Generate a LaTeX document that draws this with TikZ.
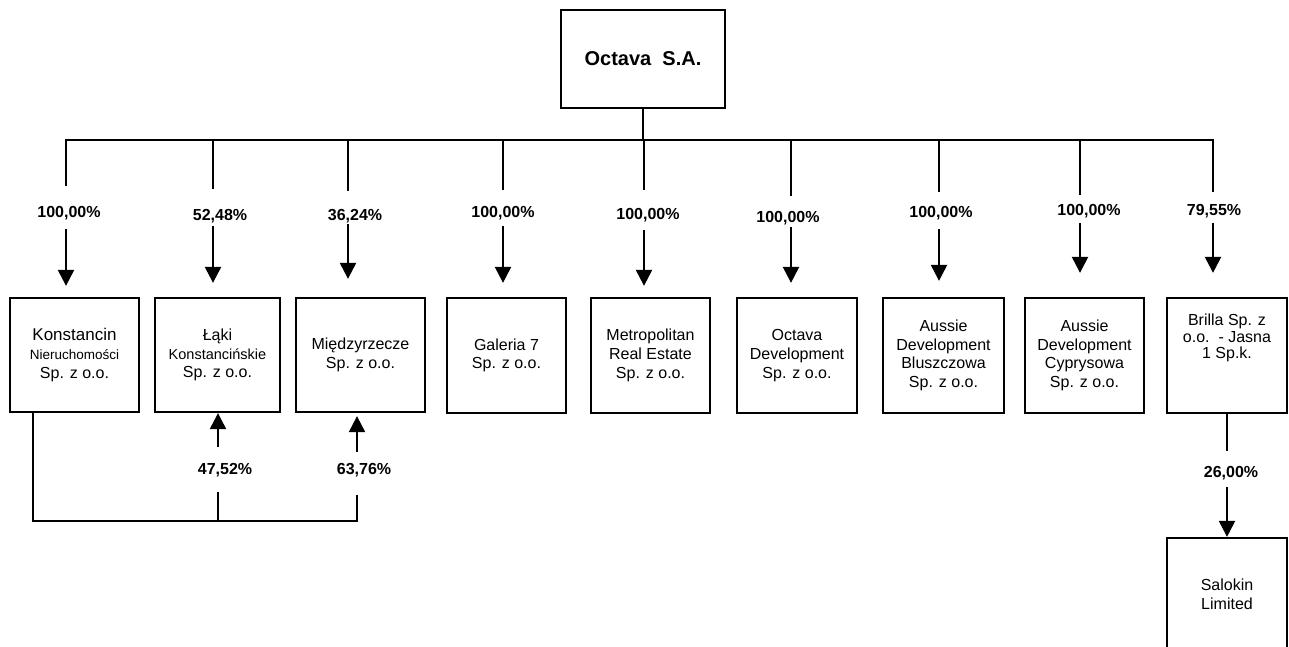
\documentclass[tikz,border=0pt]{standalone}
\usepackage{fontspec}
\setmainfont{Liberation Sans}
\usetikzlibrary{arrows.meta}
\begin{document}
\begin{tikzpicture}[x=1pt,y=-1pt,
  box/.style={draw,line width=2.3pt,inner sep=0pt,align=center,font=\fontsize{16}{18.7}\selectfont},
  pct/.style={inner sep=0pt,font=\bfseries\fontsize{16}{18}\selectfont},
  ln/.style={line width=2.3pt},
  arr/.style={line width=2.3pt,-{Triangle[width=16pt,length=16pt]}}]
\useasboundingbox (0,0) rectangle (1289,647);
\fill[white] (0,0) rectangle (1289,647);

% top box
\node[box,minimum width=164pt,minimum height=98pt,font=\bfseries\fontsize{20}{24}\selectfont] (top) at (643,59) {Octava\ \ S.A.};

% subsidiaries
\node[box,minimum width=129pt,minimum height=114pt] (k1) at (74.5,355)
  {{\fontsize{17}{19}\selectfont Konstancin}\\{\fontsize{13.5}{17}\selectfont Nieruchomości}\\Sp. z o.o.};
\node[box,minimum width=125pt,minimum height=114pt] (k2) at (217.5,355)
  {Łąki\\{\fontsize{14.5}{17}\selectfont Konstancińskie}\\Sp. z o.o.};
\node[box,minimum width=129pt,minimum height=114pt] (k3) at (360.5,355)
  {Międzyrzecze\\Sp. z o.o.};
\node[box,minimum width=119pt,minimum height=115pt] (k4) at (506.5,355.5)
  {Galeria 7\\Sp. z o.o.};
\node[box,minimum width=119pt,minimum height=115pt] (k5) at (650.5,355.5)
  {Metropolitan\\Real Estate\\Sp. z o.o.};
\node[box,minimum width=120pt,minimum height=115pt] (k6) at (797,355.5)
  {Octava\\Development\\Sp. z o.o.};
\node[box,minimum width=121pt,minimum height=115pt] (k7) at (943.5,355.5)
  {Aussie\\Development\\Bluszczowa\\Sp. z o.o.};
\node[box,minimum width=119pt,minimum height=115pt] (k8) at (1084.5,355.5)
  {Aussie\\Development\\Cyprysowa\\Sp. z o.o.};
\node[box,minimum width=120pt,minimum height=115pt] (k9) at (1227,355.5) {};
\node[inner sep=0pt,align=center,anchor=north,font=\fontsize{16}{16.5}\selectfont] (k9t) at ([yshift=-17pt]k9.north)
  {Brilla Sp. z\\o.o.\ \ - Jasna\\1 Sp.k.};
\node[box,minimum width=120pt,minimum height=112pt] (k10) at (1227,594)
  {Salokin\\Limited};

% branches from the bus
\foreach \i/\bx/\lx/\ly/\t/\ga/\gb/\gc in {
  1/66/69/213/{100,00\%}/20/9/11,
  2/213/220/216/{52,48\%}/20/3/14,
  3/348/355/216/{36,24\%}/18/1/18,
  4/503/503/213/{100,00\%}/16/6/14,
  5/644/648/215/{100,00\%}/18/8/11,
  6/791/788/218/{100,00\%}/15/2/14,
  7/939/941/213/{100,00\%}/14/9/16,
  8/1080/1089/211/{100,00\%}/9/5/24,
  9/1213/1214/211/{79,55\%}/12/5/24}{
  \coordinate (b\i) at (\bx,140);
  \node[pct] (l\i) at (\lx,\ly) {\t};
  \draw[ln,shorten >=\ga pt] (b\i) -- (b\i |- l\i.north);
  \draw[arr,shorten <=\gb pt,shorten >=\gc pt] (b\i |- l\i.south) -- (b\i |- k\i.north);
}

% bus and link to the parent
\draw[ln,line cap=rect] (b1) -- (b9);
\draw[ln] (top.south) -- (top.south |- b5);

% cross holdings of Konstancin Nieruchomości
\coordinate (c1) at (33,521);
\coordinate (c2) at (218,521);
\coordinate (c3) at (357,521);
\node[pct] (l10) at (225,470) {47,52\%};
\node[pct] (l11) at (364,470) {63,76\%};
\draw[ln,shorten >=18pt] (k1.south -| c1) -- (c1) -- (c3) -- (c3 |- l11.south);
\draw[ln,shorten >=15pt] (c2) -- (c2 |- l10.south);
\draw[arr,shorten <=16pt] (c2 |- l10.north) -- (c2 |- k2.south);
\draw[arr,shorten <=11pt,shorten >=3pt] (c3 |- l11.north) -- (c3 |- k3.south);

% Brilla -> Salokin
\node[pct] (l12) at (1231,473) {26,00\%};
\draw[ln,shorten >=15pt] (k9.south) -- (k9.south |- l12.north);
\draw[arr,shorten <=7pt] (k10.north |- l12.south) -- (k10.north);
\end{tikzpicture}
\end{document}
